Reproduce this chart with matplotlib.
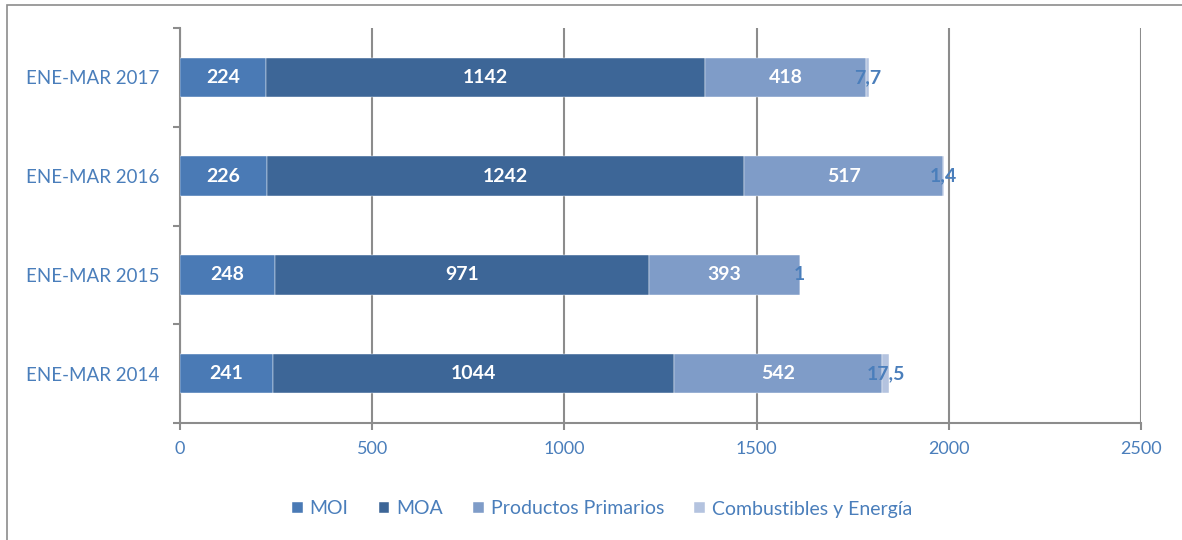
import matplotlib.pyplot as plt
from matplotlib.patches import Rectangle
import numpy as np

plt.rcParams['font.family'] = ['Lato', 'DejaVu Sans']

periodos = ["ENE-MAR 2014", "ENE-MAR 2015", "ENE-MAR 2016", "ENE-MAR 2017"]
moi = [241, 248, 226, 224]
moa = [1044, 971, 1242, 1142]
prod_primarios = [542, 393, 517, 418]
combustibles = [17.5, 1, 1.4, 7.7]

series = [
    ("MOI", moi, "#4a7ab5", "white"),
    ("MOA", moa, "#3d6697", "white"),
    ("Productos Primarios", prod_primarios, "#7f9cc8", "white"),
    ("Combustibles y Energía", combustibles, "#b4c3df", "#4a7ebb"),
]
txt_color = "#4a7ebb"
grid_color = "#8c8c8c"

fig = plt.figure(figsize=(11.82, 5.4), dpi=100)
ax = fig.add_axes([180 / 1182, 117 / 540, 961 / 1182, 395 / 540])

# outer chart frame
fig.patches.append(Rectangle((7 / 1182, -0.1), 1.2, (535 + 54) / 540,
                             transform=fig.transFigure, fill=False,
                             edgecolor="#8c8c8c", linewidth=1.2, zorder=0))

y = np.arange(len(periodos))
left = np.zeros(len(periodos))
for name, vals, color, lab_color in series:
    vals = np.array(vals, dtype=float)
    ax.barh(y, vals, left=left, height=0.4, color=color, label=name,
            edgecolor="white", linewidth=0.3, zorder=3)
    for yi, l, v in zip(y, left, vals):
        s = f"{v:g}".replace(".", ",")
        ax.text(l + v / 2, yi, s, ha="center", va="center", color=lab_color,
                fontsize=14, fontweight="bold", zorder=4)
    left += vals

ax.set_xlim(0, 2500)
ax.set_ylim(-0.5, 3.5)
ax.set_xticks(np.arange(0, 2501, 500))
ax.set_yticks(np.arange(-0.5, 3.6, 1))
ax.set_yticks(y, minor=True)
ax.set_yticklabels([])
ax.set_yticklabels(periodos, minor=True)
ax.tick_params(axis="y", which="major", length=5, color=grid_color, width=1.5)
ax.tick_params(axis="y", which="minor", length=0, pad=15, labelsize=13.5,
               labelcolor=txt_color)
ax.tick_params(axis="x", length=5, color=grid_color, width=1.5, pad=8,
               labelsize=13, labelcolor=txt_color)
ax.grid(axis="x", color=grid_color, linewidth=1.5, zorder=1)
for sp in ["top", "right"]:
    ax.spines[sp].set_visible(False)
for sp in ["left", "bottom"]:
    ax.spines[sp].set_color(grid_color)
    ax.spines[sp].set_linewidth(1.5)

leg = fig.legend(loc="center", bbox_to_anchor=(602 / 1182, 1 - 509 / 540),
                 ncol=4, frameon=False, fontsize=14, handlelength=0.55,
                 handleheight=0.55, handletextpad=0.35, columnspacing=1.55)
for t in leg.get_texts():
    t.set_color(txt_color)

fig.savefig("out.png", dpi=100)
